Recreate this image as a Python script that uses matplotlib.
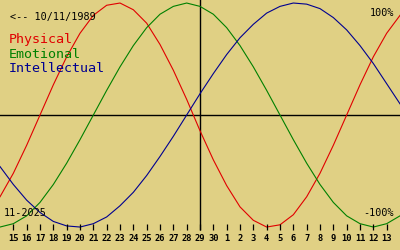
import matplotlib
matplotlib.use("Agg")
import matplotlib.pyplot as plt

# days relative to the marked day (29 Nov 2025), Nov 14 .. Dec 14
day_offset = list(range(-15, 16))

physical = [-0.73, -0.52, -0.27, 0.00, 0.27, 0.52, 0.73, 0.89, 0.98, 1.00, 0.94,
            0.82, 0.63, 0.40, 0.14, -0.14, -0.40, -0.63, -0.82, -0.94, -1.00,
            -0.98, -0.89, -0.73, -0.52, -0.27, 0.00, 0.27, 0.52, 0.73, 0.89]
emotional = [-1.00, -0.97, -0.90, -0.78, -0.62, -0.43, -0.22, 0.00, 0.22, 0.43, 0.62,
             0.78, 0.90, 0.97, 1.00, 0.97, 0.90, 0.78, 0.62, 0.43, 0.22,
             0.00, -0.22, -0.43, -0.62, -0.78, -0.90, -0.97, -1.00, -0.97, -0.90]
intellectual = [-0.46, -0.62, -0.76, -0.87, -0.95, -0.99, -1.00, -0.97, -0.91, -0.81, -0.69,
                -0.54, -0.37, -0.19, 0.00, 0.19, 0.37, 0.54, 0.69, 0.81, 0.91,
                0.97, 1.00, 0.99, 0.95, 0.87, 0.76, 0.62, 0.46, 0.28, 0.10]

tick_offset = list(range(-14, 15))
tick_labels = ["15", "16", "17", "18", "19", "20", "21", "22", "23", "24", "25",
               "26", "27", "28", "29", "30", "1", "2", "3", "4", "5", "6", "7",
               "8", "9", "10", "11", "12", "13"]

series_names = ["Physical", "Emotional", "Intellectual"]
series_colors = ["#e00000", "#008000", "#000090"]

bg = "#e0d084"
mono = "DejaVu Sans Mono"

fig = plt.figure(figsize=(4, 2.5), dpi=100, facecolor=bg)
ax = fig.add_axes([0, 0, 1, 1])
ax.set_facecolor(bg)
ax.set_xlim(-15, 15)
ax.set_ylim(-1.205, 1.027)
ax.axis("off")

# axes lines
ax.axhline(0, color="black", lw=1.0)
ax.vlines(0, -1.027, 1.1, color="black", lw=1.0)

for vals, col in zip([physical, emotional, intellectual], series_colors):
    ax.plot(day_offset, vals, color=col, lw=0.8)

# day ticks and labels
ax.vlines(tick_offset, -1.027, -0.973, color="black", lw=0.9)
for d, lab in zip(tick_offset, tick_labels):
    ax.text(d, -1.125, lab, ha="center", va="baseline", fontsize=6.3,
            fontweight="bold", family=mono, color="black")

def px(x, y):
    return x / 400, 1 - y / 250

ax.text(*px(10, 20), "<-- 10/11/1989", transform=ax.transAxes, fontsize=7.3,
        family=mono, color="black", va="baseline")
for i, (name, col) in enumerate(zip(series_names, series_colors)):
    ax.text(*px(9, 43 + i * 14.5), name, transform=ax.transAxes, fontsize=9.6,
            family=mono, color=col, va="baseline")

ax.text(*px(394, 16), "100%", transform=ax.transAxes, fontsize=7.3,
        family=mono, ha="right", va="baseline")
ax.text(*px(394, 216), "-100%", transform=ax.transAxes, fontsize=7.3,
        family=mono, ha="right", va="baseline")
ax.text(*px(4, 216), "11-2025", transform=ax.transAxes, fontsize=7.3,
        family=mono, va="baseline")

fig.savefig("out.png", dpi=100, facecolor=bg)
